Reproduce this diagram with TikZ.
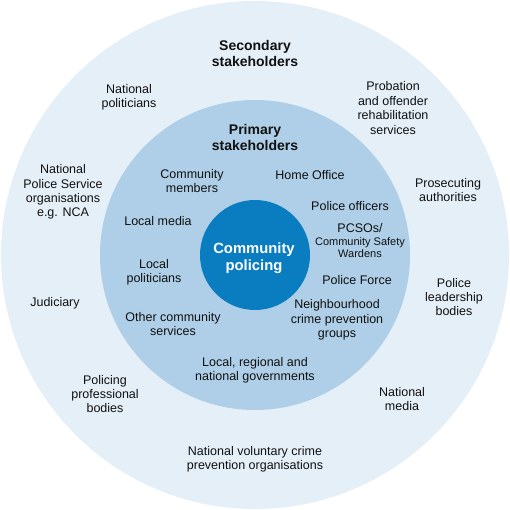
\documentclass[tikz,border=0pt]{standalone}
\usepackage{fontspec}
\setmainfont{Liberation Sans}
\definecolor{outerc}{HTML}{E4EFF8}
\definecolor{midc}{HTML}{AECFE7}
\definecolor{innerc}{HTML}{0A7DC0}
\definecolor{txt}{HTML}{111111}
\begin{document}
\begin{tikzpicture}[x=1pt,y=-1pt,
  lbl/.style={align=center,font=\fontsize{12.5}{14.4}\selectfont,text=txt,inner sep=0pt},
  head/.style={align=center,font=\fontsize{14}{16}\selectfont\bfseries,text=txt,inner sep=0pt},
  ring/.style={circle,draw=none,inner sep=0pt}]
\useasboundingbox (0,0) rectangle (510,510);
\node[ring,fill=outerc,minimum size=508] (outer) at (255,255) {};
\node[ring,fill=midc,minimum size=310] (mid) at (255,255) {};
\node[ring,fill=innerc,minimum size=110] (inner) at (255,255) {};
\node[head,text=white,font=\fontsize{14.8}{16.5}\selectfont\bfseries] (cp) at (254,258) {Community\\policing};
\node[head] (sec) at (255,54) {Secondary\\stakeholders};
\node[head] (pri) at (255,137) {Primary\\stakeholders};
% secondary
\node[lbl] (np) at (129,97) {National\\politicians};
\node[lbl] (prob) at (393,108) {Probation\\and offender\\rehabilitation\\services};
\node[lbl] (npso) at (63,192) {National\\Police Service\\organisations\\e.g. NCA};
\node[lbl] (pros) at (448,190) {Prosecuting\\authorities};
\node[lbl] (jud) at (55,303) {Judiciary};
\node[lbl] (plb) at (454,297) {Police\\leadership\\bodies};
\node[lbl] (ppb) at (105,394) {Policing\\professional\\bodies};
\node[lbl] (nm) at (402,399) {National\\media};
\node[lbl] (nvc) at (255,459) {National voluntary crime\\prevention organisations};
% primary
\node[lbl] (cm) at (192,181) {Community\\members};
\node[lbl] (ho) at (310,175) {Home Office};
\node[lbl] (lm) at (158,221) {Local media};
\node[lbl] (po) at (350,206) {Police officers};
\node[lbl,font=\fontsize{12.5}{12.5}\selectfont] (pcso) at (360,241) {PCSOs/\\{\fontsize{11}{12.5}\selectfont Community Safety}\\{\fontsize{11}{12.5}\selectfont Wardens}};
\node[lbl] (lp) at (154,272) {Local\\politicians};
\node[lbl] (pf) at (357,280) {Police Force};
\node[lbl] (ocs) at (173,324) {Other community\\services};
\node[lbl] (ncp) at (337,320) {Neighbourhood\\crime prevention\\groups};
\node[lbl] (lrn) at (255,370) {Local, regional and\\national governments};
\end{tikzpicture}
\end{document}
